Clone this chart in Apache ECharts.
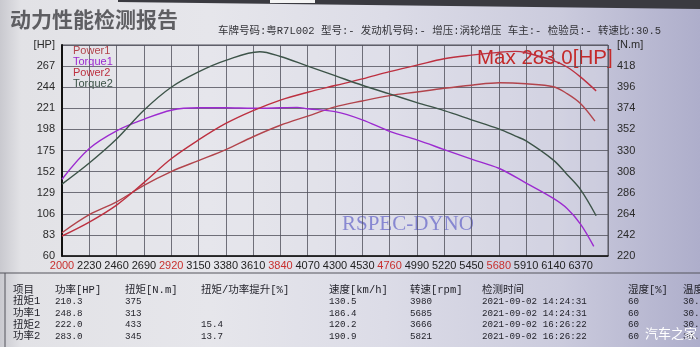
<!DOCTYPE html>
<html>
<head>
<meta charset="utf-8">
<script src="https://cdn.jsdelivr.net/npm/echarts@6/dist/echarts.min.js"></script>
<style>
html,body{margin:0;padding:0;}
body{width:700px;height:347px;overflow:hidden;
background:linear-gradient(90deg,#c9c9cf 0%,#e2e2e6 3%,#e6e6eb 30%,#dcdce7 55%,#cbcbdd 80%,#aeaecb 100%);}
#c{width:700px;height:347px;}
</style>
</head>
<body>
<div id="c"></div>
<script>
// ---- data ----
const titleText = '动力性能检测报告';
const infoText = '车牌号码:粤R7L002 型号:- 发动机号码:- 增压:涡轮增压 车主:- 检验员:- 转速比:30.5';
const maxText = 'Max 283.0[HP]';
const watermark = 'RSPEC-DYNO';
const siteMark = '汽车之家';
const seriesNames = ['Power1', 'Torque1', 'Power2', 'Torque2'];
const redTicks = [2000, 2920, 3840, 4760, 5680];

const power1 = [[2000,85.4],[2230,105],[2460,119],[2690,137],[2920,152],[3150,164],[3380,176],[3610,190],[3840,202.5],[4070,212.5],[4300,222.5],[4530,229],[4760,234.8],[4990,238.8],[5220,242.8],[5450,246.2],[5685,248.8],[5910,247.7],[6140,244.5],[6255,237],[6370,226],[6490,207]];
const torque1 = [[2000,300],[2230,332],[2460,350.5],[2690,362.5],[2920,372],[3150,374.5],[3380,374.5],[3610,374],[3840,374.5],[3980,375],[4070,373.5],[4300,370.5],[4530,362],[4760,350],[4990,341],[5220,331],[5450,321],[5680,311.5],[5910,296],[6140,280],[6255,269.5],[6370,253],[6480,230]];
const power2 = [[2000,81.8],[2230,97],[2460,115.5],[2690,140],[2920,166],[3150,186.5],[3380,204.5],[3610,218.5],[3840,230],[4070,238.5],[4300,245.8],[4530,253],[4760,261],[4990,268],[5220,275],[5450,279],[5680,282],[5821,283],[5910,281.5],[6140,273],[6255,266],[6370,255],[6500,240]];
const torque2 = [[2000,295],[2230,317],[2460,342],[2690,372],[2920,396],[3150,412],[3380,424],[3666,433],[3840,428],[4070,418],[4300,408],[4530,398],[4760,389],[4990,380],[5220,371.5],[5450,362],[5680,352.5],[5821,345],[5910,340],[6140,320],[6255,305],[6370,289],[6500,262]];

const tableHeader = ['项目','功率[HP]','扭矩[N.m]','扭矩/功率提升[%]','速度[km/h]','转速[rpm]','检测时间','湿度[%]','温度[℃]'];
const tableRow1 = ['扭矩1','210.3','375','','130.5','3980','2021-09-02 14:24:31','60','30.5'];
const tableRow2 = ['功率1','248.8','313','','186.4','5685','2021-09-02 14:24:31','60','30.5'];
const tableRow3 = ['扭矩2','222.0','433','15.4','120.2','3666','2021-09-02 16:26:22','60','30.5'];
const tableRow4 = ['功率2','283.0','345','13.7','190.9','5821','2021-09-02 16:26:22','60','30.5'];

// ---- layout / styles ----
const colors = {Power1:'#b2444c', Torque1:'#9c2bd0', Power2:'#bd3040', Torque2:'#3d5449'};
const colX = [13, 55, 125, 201, 329, 410, 482, 628, 683];
const rowY = [290, 301.7, 313.3, 325, 336.7];
const tableFont = "'Liberation Mono','Noto Sans CJK SC',monospace";
const hasCJK = s => /[\u4e00-\u9fff]/.test(s);

const graphic = [];
graphic.push({type:'polygon', shape:{points:[[118,0],[700,0],[700,9],[118,2]]}, style:{fill:'#3a3a40'}, silent:true});
graphic.push({type:'rect', shape:{x:270,y:0,width:45,height:3}, style:{fill:'#f4f4f4'}, silent:true});
graphic.push({type:'text', x:10, y:19, style:{text:titleText, fill:'#5e5e62', fontSize:21, fontWeight:'bold', fontFamily:"'Noto Sans CJK SC'", verticalAlign:'middle', shadowBlur:3, shadowColor:'rgba(0,0,0,0.35)', shadowOffsetX:1, shadowOffsetY:1}, silent:true});
graphic.push({type:'text', x:218, y:31, style:{text:infoText, fill:'#333338', fontSize:10.5, fontFamily:tableFont, verticalAlign:'middle'}, silent:true});
graphic.push({type:'text', x:477, y:58, style:{text:maxText, fill:'#c42a2a', fontSize:20.5, fontFamily:"'Liberation Sans',Arial", verticalAlign:'middle'}, silent:true});
graphic.push({type:'text', x:342, y:224, style:{text:watermark, fill:'rgba(120,120,205,0.85)', fontSize:21, fontFamily:"'Liberation Serif',serif", verticalAlign:'middle'}, silent:true});
graphic.push({type:'line', shape:{x1:0,y1:273,x2:700,y2:273}, style:{stroke:'#55555c', lineWidth:1}, silent:true});
graphic.push({type:'line', shape:{x1:5,y1:273,x2:5,y2:347}, style:{stroke:'#55555c', lineWidth:1}, silent:true});
[tableHeader, tableRow1, tableRow2, tableRow3, tableRow4].forEach((row, ri) => {
  row.forEach((cell, ci) => {
    if (!cell) return;
    graphic.push({type:'text', x:colX[ci], y:rowY[ri], style:{text:cell, fill:'#24242c', fontSize: hasCJK(cell) ? 10.5 : 9.2, fontFamily:tableFont, verticalAlign:'middle'}, silent:true});
  });
});
graphic.push({type:'text', x:645, y:333, style:{text:siteMark, fill:'#ffffff', fontSize:13, fontFamily:"'Noto Sans CJK SC'", verticalAlign:'middle', shadowBlur:2, shadowColor:'rgba(0,0,0,0.4)'}, silent:true});

const chart = echarts.init(document.getElementById('c'), null, {renderer:'canvas'});
const mkSeries = (name, data, yi) => ({
  name, type:'line', data, yAxisIndex:yi, smooth:0.35, showSymbol:false, symbol:'none',
  lineStyle:{color:colors[name], width:1.4}, itemStyle:{color:colors[name]},
  emphasis:{disabled:true}, z:3
});
chart.setOption({
  animation:false,
  backgroundColor:'transparent',
  grid:{left:62, right:92, top:45, bottom:91, show:true, borderColor:'#50505a', borderWidth:1, backgroundColor:'rgba(230,230,240,0.25)'},
  legend:{
    orient:'vertical', left:67, top:45, padding:0, itemWidth:0, itemHeight:0, itemGap:0, selectedMode:false,
    textStyle:{fontSize:11, lineHeight:10.3, fontFamily:"'Liberation Sans',Arial"},
    data: seriesNames.map(n => ({name:n, textStyle:{color:colors[n]}}))
  },
  xAxis:{
    type:'value', min:2000, max:6600, interval:230,
    axisLine:{show:true, onZero:false, lineStyle:{color:'#111', width:1.5}},
    axisTick:{show:false},
    splitLine:{show:true, lineStyle:{color:'#50505c', width:0.8}},
    axisLabel:{
      margin:4, fontSize:11, fontFamily:"'Liberation Sans',Arial", color:'#222',
      formatter: v => v === 6600 ? '[RPM]' : (redTicks.includes(v) ? '{r|' + v + '}' : String(v)),
      rich:{r:{color:'#c8302e', fontSize:11, fontFamily:"'Liberation Sans',Arial"}}
    }
  },
  yAxis:[
    {type:'value', min:60, max:290, interval:23, position:'left',
     axisLine:{show:true, lineStyle:{color:'#111', width:2}}, axisTick:{show:false},
     splitLine:{show:true, lineStyle:{color:'#50505c', width:0.8}},
     axisLabel:{margin:7, fontSize:11, fontFamily:"'Liberation Sans',Arial", color:'#2a2a2a',
       formatter: v => v === 290 ? '[HP]' : String(v)}},
    {type:'value', min:220, max:440, interval:22, position:'right',
     axisLine:{show:false}, axisTick:{show:false}, splitLine:{show:false},
     axisLabel:{margin:9, fontSize:11, fontFamily:"'Liberation Sans',Arial", color:'#2a2a2a',
       formatter: v => v === 440 ? '[N.m]' : String(v)}}
  ],
  series:[
    mkSeries('Power1', power1, 0),
    mkSeries('Torque1', torque1, 1),
    mkSeries('Power2', power2, 0),
    mkSeries('Torque2', torque2, 1)
  ],
  graphic
});
</script>
</body>
</html>
